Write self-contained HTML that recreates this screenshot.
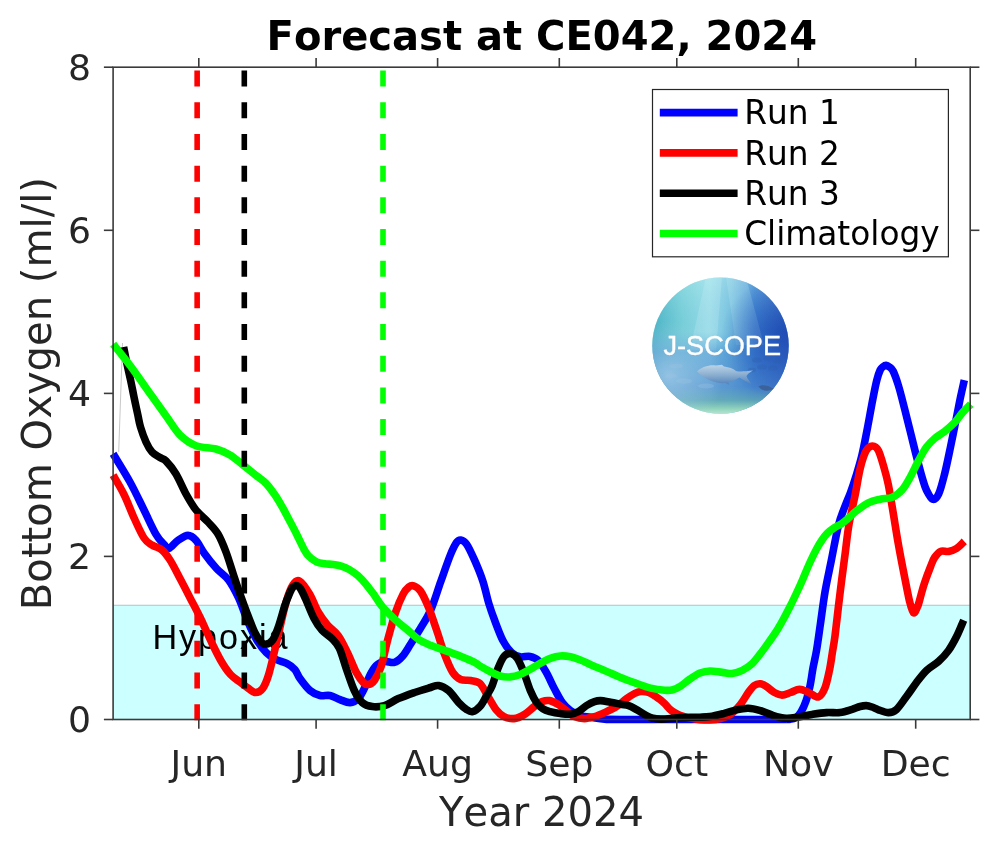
<!DOCTYPE html>
<html lang="en"><head><meta charset="utf-8"><title>Forecast at CE042, 2024</title>
<style>
html,body{margin:0;padding:0;background:#fff;}
body{width:1000px;height:847px;overflow:hidden;}
svg{display:block;}
text{font-family:"DejaVu Sans","Liberation Sans",sans-serif;fill:#262626;font-kerning:none;}
.tk{font-size:36.2px;}
.lg{font-size:32.8px;fill:#000;}
.ttl{font-size:40.05px;font-weight:bold;fill:#000;}
.axl{font-size:40.1px;}
.hyp{font-family:"Liberation Sans",sans-serif;font-size:34.2px;letter-spacing:1.9px;fill:#000;}
.logo{font-family:"Liberation Sans",sans-serif;font-size:28.2px;fill:#fff;stroke:#fff;stroke-width:0.4;}
.cv{fill:none;stroke-width:7.6;stroke-linejoin:round;stroke-linecap:butt;}
.ds{fill:none;stroke-width:5.6;stroke-dasharray:16 15.68;}
.ax{stroke:#3a3a3a;stroke-width:1.6;fill:none;}
</style></head><body>
<svg width="1000" height="847" viewBox="0 0 1000 847">
<rect width="1000" height="847" fill="#fff"/>
<rect x="113.1" y="605.3" width="857.1" height="114.2" fill="#ccffff"/>
<line x1="113.1" y1="605.3" x2="970.2" y2="605.3" stroke="#aec4c4" stroke-width="1.1"/>
<text class="hyp" x="152.5" y="648.9">Hypoxia</text>
<line x1="122.5" y1="343" x2="118.7" y2="452" stroke="#c8c8c8" stroke-width="1"/>
<path class="cv" stroke="#0000ff" d="M113.1 453.8C115.9 458.5 124.8 472.6 130.0 482.0C135.2 491.4 139.7 501.3 144.0 510.0C148.3 518.7 152.7 528.7 156.0 534.4C159.3 540.1 161.8 542.1 164.0 544.4C166.2 546.7 166.7 549.1 169.0 548.4C171.3 547.7 174.8 542.6 178.0 540.4C181.2 538.2 185.0 535.4 188.0 535.4C191.0 535.4 193.3 537.4 196.0 540.4C198.7 543.4 201.0 548.8 204.4 553.5C207.8 558.2 212.5 564.1 216.5 568.5C220.5 572.9 224.8 575.1 228.5 580.0C232.2 584.9 235.3 591.0 238.6 598.0C241.8 605.0 245.0 615.0 248.0 622.0C251.0 629.0 253.8 634.9 256.8 640.0C259.9 645.1 263.2 649.4 266.3 652.6C269.4 655.8 271.8 657.2 275.2 659.0C278.6 660.8 283.4 661.7 286.7 663.4C290.0 665.1 292.6 666.9 294.8 669.4C297.0 671.9 297.5 675.0 300.0 678.5C302.5 682.0 306.7 687.7 310.0 690.5C313.3 693.3 316.7 694.7 320.0 695.5C323.3 696.3 326.7 694.8 330.0 695.5C333.3 696.2 336.7 698.4 340.0 699.6C343.3 700.8 346.9 702.8 350.0 702.6C353.1 702.4 355.9 701.0 358.3 698.6C360.7 696.2 362.3 692.5 364.3 688.5C366.3 684.5 368.3 678.4 370.3 674.5C372.3 670.6 374.0 667.6 376.3 665.4C378.6 663.2 381.4 661.9 384.4 661.4C387.4 660.9 391.4 663.2 394.4 662.4C397.4 661.6 399.7 659.4 402.4 656.4C405.1 653.4 407.5 649.0 410.5 644.3C413.5 639.6 417.1 633.9 420.5 628.3C423.9 622.6 427.2 618.1 430.6 610.4C434.0 602.7 437.3 591.3 440.6 582.0C443.9 572.7 447.9 561.0 450.6 554.4C453.3 547.8 455.0 544.7 456.7 542.3C458.4 539.9 459.0 539.7 460.7 540.0C462.4 540.3 464.4 540.9 466.7 544.3C469.0 547.7 472.0 554.3 474.7 560.4C477.4 566.5 480.4 573.7 482.8 581.0C485.2 588.3 487.0 597.5 489.0 604.0C491.0 610.5 492.3 614.1 494.6 620.2C496.9 626.3 500.2 635.4 503.0 640.8C505.8 646.2 508.7 649.7 511.5 652.4C514.3 655.1 516.9 656.1 520.0 656.8C523.1 657.5 527.0 655.8 530.0 656.4C533.0 657.0 535.5 657.7 538.2 660.4C540.9 663.1 543.6 667.7 546.3 672.4C549.0 677.1 551.6 683.5 554.3 688.5C557.0 693.5 559.6 698.9 562.3 702.6C565.0 706.3 567.4 708.4 570.4 710.6C573.4 712.8 576.7 714.4 580.4 715.6C584.1 716.8 588.4 717.0 592.4 717.6C596.4 718.2 599.8 718.9 604.5 719.2C609.2 719.5 604.7 719.5 620.6 719.5C636.5 719.5 673.4 719.5 700.0 719.5C726.6 719.5 765.0 719.5 780.0 719.5C795.0 719.5 787.3 719.6 790.0 719.3C792.7 719.0 794.2 718.8 796.0 717.6C797.8 716.4 799.3 714.8 801.0 712.0C802.7 709.2 804.5 705.3 806.0 701.0C807.5 696.7 808.8 691.5 810.0 686.0C811.2 680.5 811.9 674.0 813.0 668.0C814.1 662.0 815.4 657.3 816.6 650.0C817.8 642.7 819.0 633.7 820.4 624.0C821.8 614.3 823.2 602.7 825.0 592.0C826.8 581.3 829.2 571.0 831.4 560.0C833.6 549.0 836.1 534.9 838.2 526.3C840.3 517.7 842.1 514.0 844.2 508.3C846.3 502.6 848.6 497.6 850.6 492.2C852.6 486.8 854.2 482.0 856.0 476.1C857.8 470.2 859.7 464.3 861.5 457.0C863.3 449.7 864.8 441.8 866.6 432.4C868.5 422.9 870.9 409.0 872.6 400.3C874.3 391.6 875.5 385.2 876.8 380.2C878.1 375.1 879.1 372.3 880.2 370.0C881.3 367.7 882.2 367.4 883.2 366.6C884.2 365.8 885.0 365.3 886.0 365.4C887.0 365.5 888.2 366.1 889.4 367.0C890.6 367.9 891.6 367.9 893.1 371.0C894.6 374.1 896.5 379.3 898.4 385.5C900.3 391.7 902.5 400.6 904.5 408.4C906.5 416.2 908.5 424.4 910.5 432.4C912.5 440.4 914.5 448.8 916.5 456.5C918.5 464.2 920.8 473.0 922.5 478.6C924.2 484.2 924.8 486.8 926.5 490.2C928.2 493.6 930.6 498.5 932.6 499.2C934.6 499.9 936.6 498.4 938.6 494.2C940.6 490.0 942.6 481.9 944.6 474.0C946.6 466.1 948.6 456.1 950.6 446.5C952.6 436.9 955.0 424.8 956.7 416.4C958.4 408.0 959.4 402.3 960.7 396.3C962.0 390.3 963.7 382.9 964.3 380.2"/>
<path class="cv" stroke="#ff0000" d="M113.1 475.2C114.9 478.4 120.5 487.4 124.0 494.5C127.5 501.6 130.7 510.5 134.0 517.8C137.3 525.0 141.0 533.5 144.0 538.0C147.0 542.5 149.0 543.0 152.0 545.0C155.0 547.0 159.0 547.5 162.0 550.0C165.0 552.5 166.9 555.2 170.0 560.0C173.1 564.8 176.9 572.6 180.3 579.0C183.7 585.4 187.1 592.0 190.4 598.5C193.8 605.0 197.1 611.1 200.4 618.0C203.7 624.9 207.1 633.0 210.4 640.0C213.8 647.0 217.2 654.2 220.5 660.0C223.8 665.8 227.2 670.8 230.5 674.5C233.8 678.2 237.6 680.2 240.6 682.5C243.6 684.8 246.1 686.8 248.6 688.5C251.1 690.2 253.2 692.5 255.6 692.5C257.9 692.5 260.5 691.5 262.7 688.5C264.9 685.5 266.7 680.9 268.7 674.5C270.7 668.1 272.7 658.8 274.7 650.4C276.7 642.0 278.7 632.4 280.7 624.0C282.7 615.6 284.7 606.5 286.7 600.0C288.7 593.5 290.7 588.2 292.8 585.0C294.9 581.8 296.7 579.5 299.5 581.0C302.3 582.5 306.5 588.8 309.6 594.0C312.7 599.2 315.2 606.8 318.2 612.0C321.2 617.2 324.1 621.1 327.5 625.0C330.9 628.9 335.0 631.0 338.3 635.6C341.6 640.2 344.4 646.3 347.4 652.4C350.4 658.5 353.6 667.4 356.3 672.4C359.0 677.4 361.3 680.5 363.3 682.5C365.3 684.5 366.5 684.8 368.3 684.5C370.1 684.2 372.2 683.5 374.3 680.5C376.4 677.5 379.0 673.1 381.2 666.4C383.4 659.7 385.2 649.3 387.6 640.3C390.0 631.3 393.0 619.9 395.6 612.2C398.2 604.5 401.0 598.2 403.2 594.0C405.4 589.8 407.1 588.4 408.8 587.0C410.5 585.6 411.6 585.0 413.5 585.7C415.4 586.4 418.0 587.4 420.5 591.0C423.0 594.6 425.9 601.0 428.6 607.5C431.3 614.0 433.9 622.2 436.6 630.0C439.3 637.8 441.9 647.3 444.6 654.4C447.3 661.5 450.0 668.2 452.7 672.4C455.4 676.6 457.7 678.1 460.7 679.5C463.7 680.9 467.5 679.8 470.7 680.5C473.9 681.2 477.1 680.8 480.0 683.5C482.9 686.2 485.3 692.1 488.0 696.5C490.7 700.9 493.3 706.2 496.0 709.6C498.7 713.0 501.0 715.1 504.0 716.6C507.0 718.1 510.6 718.9 514.0 718.6C517.4 718.3 520.8 716.6 524.2 714.6C527.6 712.6 531.2 708.8 534.2 706.6C537.2 704.4 539.7 702.6 542.2 701.6C544.7 700.6 546.6 700.1 549.3 700.6C552.0 701.1 555.5 702.9 558.3 704.6C561.1 706.3 563.6 708.6 566.3 710.6C569.0 712.6 571.4 715.3 574.4 716.6C577.4 717.9 581.0 718.6 584.4 718.6C587.8 718.6 591.1 717.6 594.5 716.6C597.9 715.6 600.8 714.3 604.5 712.6C608.2 710.9 612.8 708.9 616.5 706.6C620.2 704.3 623.6 700.8 626.6 698.6C629.6 696.4 632.3 694.7 634.6 693.5C636.9 692.3 638.2 691.7 640.6 691.5C643.0 691.3 646.0 691.5 648.7 692.5C651.4 693.5 654.7 696.0 656.7 697.2C658.7 698.4 659.2 698.8 660.5 699.9C661.8 701.0 663.1 702.0 664.7 703.6C666.3 705.2 668.3 707.8 670.0 709.3C671.7 710.8 673.3 711.8 675.0 712.8C676.7 713.8 677.8 714.4 680.0 715.2C682.2 716.0 684.7 716.9 688.0 717.6C691.3 718.3 696.3 719.2 700.0 719.6C703.7 720.0 706.6 720.2 710.0 720.0C713.4 719.8 716.8 719.5 720.2 718.6C723.6 717.7 726.9 716.9 730.2 714.6C733.6 712.3 737.3 708.3 740.3 704.6C743.3 700.9 746.0 695.7 748.3 692.5C750.6 689.3 752.3 687.0 754.3 685.5C756.3 684.0 758.4 683.6 760.4 683.8C762.4 684.0 764.1 685.0 766.4 686.5C768.7 688.0 771.8 691.1 774.4 692.5C777.0 693.9 779.3 695.1 782.0 695.1C784.7 695.1 787.6 693.5 790.5 692.5C793.4 691.5 796.5 689.3 799.5 689.3C802.5 689.3 805.5 691.2 808.6 692.5C811.7 693.8 815.6 697.7 818.3 697.0C821.0 696.3 822.9 692.8 824.8 688.3C826.7 683.8 828.2 675.9 829.5 670.0C830.8 664.1 831.4 658.7 832.3 653.0C833.2 647.3 834.0 643.8 835.0 636.0C836.0 628.2 837.4 615.2 838.5 606.0C839.6 596.8 840.5 589.5 841.6 580.6C842.7 571.7 844.1 561.8 845.3 552.4C846.5 543.0 847.3 534.0 849.0 524.3C850.7 514.6 853.4 503.6 855.3 494.2C857.2 484.8 858.5 475.2 860.3 468.0C862.1 460.8 864.0 454.7 866.0 451.0C868.0 447.3 870.2 446.1 872.3 446.0C874.4 445.9 876.4 446.7 878.4 450.5C880.4 454.3 882.7 463.2 884.4 469.0C886.1 474.8 887.1 478.5 888.4 485.0C889.7 491.5 890.7 498.1 892.4 508.0C894.1 517.9 896.4 533.0 898.4 544.4C900.4 555.8 902.6 567.0 904.5 576.5C906.4 586.0 908.1 595.5 909.6 601.5C911.1 607.5 912.2 612.0 913.5 612.8C914.8 613.6 916.4 609.5 917.6 606.5C918.9 603.5 919.9 598.9 921.0 595.0C922.1 591.1 922.9 587.8 924.5 583.0C926.1 578.2 928.9 570.8 930.6 566.5C932.3 562.2 932.9 560.0 934.6 557.5C936.3 555.0 938.3 552.4 940.6 551.4C942.9 550.4 945.9 551.9 948.6 551.4C951.3 550.9 954.1 550.1 956.7 548.4C959.3 546.7 963.0 542.6 964.3 541.4"/>
<path class="cv" stroke="#000000" d="M123.6 347.0C124.2 349.8 125.8 358.5 127.0 364.0C128.2 369.5 129.4 374.7 130.6 380.2C131.8 385.7 132.8 391.3 134.0 397.0C135.2 402.7 136.6 409.3 137.7 414.3C138.8 419.3 139.1 422.4 140.5 427.0C141.9 431.6 144.1 437.8 146.0 442.0C147.9 446.2 149.7 449.4 152.0 452.0C154.3 454.6 157.7 456.0 160.0 457.5C162.3 459.0 163.3 458.2 166.0 461.0C168.7 463.8 172.7 468.5 176.0 474.0C179.3 479.5 182.7 488.0 186.0 494.0C189.3 500.0 192.3 505.3 196.0 510.0C199.7 514.7 204.3 518.0 208.0 522.0C211.7 526.0 215.0 529.0 218.0 534.0C221.0 539.0 223.3 544.9 226.0 552.0C228.7 559.1 231.7 569.5 234.0 576.5C236.3 583.5 237.9 588.1 240.0 594.0C242.1 599.9 244.2 605.7 246.6 612.0C249.0 618.3 252.3 627.1 254.6 632.0C256.9 636.9 258.8 639.2 260.6 641.3C262.5 643.3 263.7 644.5 265.7 644.3C267.7 644.1 270.5 643.0 272.7 640.0C274.9 637.0 276.7 631.7 278.7 626.0C280.7 620.3 283.1 611.0 284.7 606.0C286.3 601.0 287.3 598.9 288.5 596.0C289.7 593.1 290.8 590.2 292.0 588.5C293.2 586.8 294.6 585.5 296.0 585.5C297.4 585.5 298.8 586.2 300.4 588.5C302.0 590.8 303.4 594.1 305.6 599.0C307.8 603.9 311.1 612.8 313.8 618.0C316.5 623.2 319.0 626.9 322.0 630.3C325.0 633.7 329.1 635.6 332.0 638.6C334.9 641.6 337.0 643.4 339.4 648.4C341.8 653.4 343.7 661.4 346.2 668.4C348.7 675.4 351.6 684.8 354.3 690.5C357.0 696.2 359.3 699.9 362.3 702.6C365.3 705.3 368.6 706.1 372.3 706.6C376.0 707.1 380.0 706.9 384.4 705.6C388.8 704.3 393.4 700.8 398.4 698.6C403.4 696.4 409.1 694.4 414.5 692.5C419.9 690.6 426.6 688.7 430.6 687.5C434.6 686.3 435.6 685.0 438.6 685.5C441.6 686.0 445.2 687.6 448.6 690.5C452.0 693.4 455.7 699.4 458.7 702.6C461.7 705.8 464.4 708.1 466.7 709.6C469.0 711.1 470.4 712.2 472.7 711.6C475.0 711.0 478.1 708.6 480.4 706.0C482.7 703.4 484.5 699.3 486.4 696.0C488.3 692.7 490.1 690.6 492.0 686.0C493.9 681.4 496.0 673.3 498.0 668.4C500.0 663.5 501.9 658.9 504.0 656.4C506.1 653.9 508.6 653.1 510.8 653.4C513.0 653.7 515.1 655.2 517.3 658.4C519.5 661.6 521.6 667.0 523.8 672.4C526.0 677.8 528.2 685.5 530.3 690.5C532.4 695.5 534.5 699.6 536.6 702.6C538.7 705.6 540.8 707.3 543.0 708.8C545.2 710.3 547.1 710.8 550.0 711.6C552.9 712.4 556.9 713.2 560.3 713.6C563.7 714.0 567.4 714.5 570.4 714.2C573.4 713.9 575.7 713.0 578.4 711.6C581.1 710.2 583.7 707.3 586.4 705.6C589.1 703.9 592.1 702.4 594.5 701.6C596.9 700.8 597.8 700.5 600.5 700.6C603.2 700.7 607.1 701.6 610.5 702.2C613.9 702.8 617.6 703.6 620.6 704.2C623.6 704.8 625.9 704.7 628.6 705.6C631.3 706.5 633.9 708.1 636.6 709.6C639.3 711.1 642.0 713.2 644.7 714.6C647.4 716.0 650.0 717.5 652.7 718.2C655.4 719.0 657.7 719.1 660.7 719.1C663.7 719.1 667.6 718.8 670.8 718.5C674.0 718.2 676.8 717.8 680.0 717.6C683.2 717.4 686.7 717.5 690.0 717.4C693.3 717.3 696.7 717.3 700.0 717.2C703.3 717.1 706.0 717.2 710.0 716.6C714.0 716.0 719.8 714.5 724.2 713.4C728.6 712.3 732.3 710.8 736.3 709.9C740.3 709.0 744.3 708.2 748.3 708.3C752.3 708.4 756.4 709.5 760.4 710.6C764.4 711.8 768.1 713.9 772.4 715.2C776.7 716.5 781.6 718.0 786.0 718.3C790.4 718.6 794.2 717.6 798.5 717.0C802.8 716.4 807.3 715.1 812.0 714.4C816.7 713.7 821.9 712.9 826.6 712.6C831.3 712.3 835.9 713.1 840.2 712.6C844.5 712.1 848.9 710.4 852.2 709.4C855.5 708.4 857.6 707.1 860.0 706.5C862.4 705.9 864.3 705.5 866.3 705.6C868.3 705.7 870.0 706.3 872.0 707.0C874.0 707.7 875.7 708.9 878.4 709.8C881.1 710.7 885.4 712.6 888.4 712.6C891.4 712.6 893.4 712.3 896.4 709.6C899.4 706.9 903.1 701.0 906.5 696.5C909.9 692.0 913.2 686.9 916.5 682.5C919.8 678.1 922.8 673.9 926.5 670.4C930.2 666.9 934.9 664.7 938.6 661.4C942.3 658.1 945.6 654.6 948.6 650.4C951.6 646.2 954.2 641.3 956.7 636.3C959.2 631.3 962.5 622.9 963.7 620.2"/>
<path class="cv" stroke="#00ff00" d="M113.2 344.2C116.0 347.8 123.9 357.3 130.1 365.6C136.3 373.9 144.2 385.4 150.2 393.8C156.2 402.2 161.3 409.3 166.3 416.2C171.3 423.1 175.1 430.1 180.0 435.0C184.9 439.9 190.0 443.4 196.0 445.7C202.0 448.0 210.3 447.4 216.0 449.0C221.7 450.6 225.2 452.1 230.0 455.0C234.8 457.9 240.2 462.8 244.6 466.3C249.0 469.8 253.0 473.0 256.5 475.8C260.0 478.6 262.5 479.8 265.6 483.0C268.7 486.2 272.0 490.7 275.0 495.0C278.0 499.3 280.9 504.6 283.4 509.0C285.9 513.4 287.7 517.2 290.0 521.5C292.3 525.8 294.8 530.5 297.0 535.0C299.2 539.5 301.6 544.9 303.5 548.3C305.4 551.7 306.1 553.3 308.3 555.6C310.5 557.9 313.8 560.5 316.5 561.9C319.2 563.3 322.0 563.4 324.8 563.8C327.6 564.2 330.4 564.1 333.1 564.5C335.9 564.9 338.6 565.3 341.3 566.2C344.1 567.1 346.8 568.2 349.6 569.8C352.4 571.4 355.1 573.3 357.9 575.7C360.6 578.1 363.4 581.1 366.1 584.4C368.9 587.6 371.7 591.5 374.4 595.2C377.1 598.9 379.0 602.8 382.4 606.8C385.8 610.8 390.9 615.7 395.0 619.5C399.1 623.3 403.1 626.2 407.0 629.5C410.9 632.8 414.6 636.7 418.5 639.3C422.4 641.9 426.2 643.4 430.6 645.3C435.0 647.1 439.6 648.5 444.6 650.4C449.6 652.2 455.7 654.4 460.7 656.4C465.7 658.4 471.5 660.8 474.7 662.4C477.9 664.0 477.4 664.5 480.0 666.0C482.6 667.5 486.7 669.8 490.0 671.5C493.3 673.2 496.7 675.1 500.0 676.0C503.3 676.9 506.7 677.1 510.0 676.9C513.3 676.6 516.7 675.8 520.0 674.5C523.3 673.2 526.6 671.2 530.0 669.4C533.4 667.5 536.8 665.2 540.2 663.4C543.6 661.6 546.9 659.6 550.3 658.4C553.6 657.2 556.9 656.3 560.3 656.0C563.6 655.7 567.0 656.1 570.4 656.8C573.8 657.5 576.7 658.6 580.4 660.0C584.1 661.4 588.4 663.7 592.4 665.4C596.4 667.1 599.8 668.4 604.5 670.4C609.2 672.4 615.2 675.3 620.6 677.5C626.0 679.7 631.6 681.7 636.6 683.5C641.6 685.3 646.0 687.0 650.7 688.1C655.4 689.2 661.2 689.9 664.7 690.2C668.2 690.5 669.5 690.6 672.0 690.0C674.5 689.4 677.0 688.3 680.0 686.5C683.0 684.7 686.7 681.2 690.0 679.0C693.3 676.8 696.7 674.3 700.0 673.0C703.3 671.7 706.3 671.1 710.0 671.0C713.7 670.9 718.5 672.0 722.2 672.4C725.9 672.8 728.9 673.8 732.2 673.5C735.6 673.2 738.9 672.1 742.3 670.4C745.6 668.7 748.9 666.7 752.3 663.5C755.6 660.3 759.4 654.8 762.4 651.0C765.4 647.2 767.4 644.2 770.0 640.5C772.6 636.8 775.5 632.8 777.8 629.0C780.1 625.2 781.9 621.9 784.0 618.0C786.1 614.1 788.2 610.0 790.4 605.7C792.6 601.4 794.9 596.5 797.0 592.0C799.1 587.5 801.0 583.3 803.1 578.4C805.2 573.5 807.6 567.5 809.9 562.5C812.2 557.5 814.8 552.2 816.8 548.5C818.8 544.8 820.3 542.5 822.0 540.0C823.7 537.5 825.1 535.5 827.1 533.5C829.1 531.5 831.6 529.6 834.0 528.0C836.4 526.4 839.1 525.4 841.4 523.8C843.7 522.2 845.5 520.6 848.0 518.5C850.5 516.4 852.9 513.6 856.3 511.0C859.7 508.4 864.3 504.8 868.3 502.8C872.3 500.8 876.4 500.1 880.4 499.2C884.4 498.3 888.7 498.8 892.4 497.2C896.1 495.6 899.5 492.9 902.5 489.5C905.5 486.1 907.8 481.4 910.5 476.6C913.2 471.8 915.8 465.5 918.5 460.6C921.2 455.7 923.8 450.7 926.5 447.0C929.2 443.3 931.6 441.1 934.6 438.5C937.6 435.9 941.2 434.1 944.6 431.4C948.0 428.7 951.7 425.6 954.7 422.4C957.7 419.2 960.0 415.4 962.7 412.4C965.4 409.4 969.4 405.6 970.7 404.3"/>
<line class="ds" stroke="#ff0000" x1="197.15" y1="720.2" x2="197.15" y2="67.2"/>
<line class="ds" stroke="#000000" x1="244.3" y1="720.2" x2="244.3" y2="67.2"/>
<line class="ds" stroke="#00ff00" x1="383" y1="720.2" x2="383" y2="67.2"/>
<rect class="ax" x="113.1" y="67.2" width="857.1" height="652.3"/>
<line class="ax" x1="198.8" y1="719.5" x2="198.8" y2="728.7"/><line class="ax" x1="198.8" y1="67.2" x2="198.8" y2="58.0"/>
<text class="tk" x="198.8" y="776" text-anchor="middle">Jun</text>
<line class="ax" x1="316.1" y1="719.5" x2="316.1" y2="728.7"/><line class="ax" x1="316.1" y1="67.2" x2="316.1" y2="58.0"/>
<text class="tk" x="316.1" y="776" text-anchor="middle">Jul</text>
<line class="ax" x1="437.6" y1="719.5" x2="437.6" y2="728.7"/><line class="ax" x1="437.6" y1="67.2" x2="437.6" y2="58.0"/>
<text class="tk" x="437.6" y="776" text-anchor="middle">Aug</text>
<line class="ax" x1="559.3" y1="719.5" x2="559.3" y2="728.7"/><line class="ax" x1="559.3" y1="67.2" x2="559.3" y2="58.0"/>
<text class="tk" x="559.3" y="776" text-anchor="middle">Sep</text>
<line class="ax" x1="676.8" y1="719.5" x2="676.8" y2="728.7"/><line class="ax" x1="676.8" y1="67.2" x2="676.8" y2="58.0"/>
<text class="tk" x="676.8" y="776" text-anchor="middle">Oct</text>
<line class="ax" x1="798.3" y1="719.5" x2="798.3" y2="728.7"/><line class="ax" x1="798.3" y1="67.2" x2="798.3" y2="58.0"/>
<text class="tk" x="798.3" y="776" text-anchor="middle">Nov</text>
<line class="ax" x1="915.7" y1="719.5" x2="915.7" y2="728.7"/><line class="ax" x1="915.7" y1="67.2" x2="915.7" y2="58.0"/>
<text class="tk" x="915.7" y="776" text-anchor="middle">Dec</text>
<line class="ax" x1="113.1" y1="719.5" x2="103.89999999999999" y2="719.5"/><line class="ax" x1="970.2" y1="719.5" x2="979.4000000000001" y2="719.5"/>
<text class="tk" x="91" y="732.4" text-anchor="end">0</text>
<line class="ax" x1="113.1" y1="556.4" x2="103.89999999999999" y2="556.4"/><line class="ax" x1="970.2" y1="556.4" x2="979.4000000000001" y2="556.4"/>
<text class="tk" x="91" y="569.3" text-anchor="end">2</text>
<line class="ax" x1="113.1" y1="393.4" x2="103.89999999999999" y2="393.4"/><line class="ax" x1="970.2" y1="393.4" x2="979.4000000000001" y2="393.4"/>
<text class="tk" x="91" y="406.2" text-anchor="end">4</text>
<line class="ax" x1="113.1" y1="230.3" x2="103.89999999999999" y2="230.3"/><line class="ax" x1="970.2" y1="230.3" x2="979.4000000000001" y2="230.3"/>
<text class="tk" x="91" y="243.2" text-anchor="end">6</text>
<line class="ax" x1="113.1" y1="67.2" x2="103.89999999999999" y2="67.2"/><line class="ax" x1="970.2" y1="67.2" x2="979.4000000000001" y2="67.2"/>
<text class="tk" x="91" y="80.1" text-anchor="end">8</text>
<text class="ttl" x="541.8" y="50" text-anchor="middle">Forecast at CE042, 2024</text>
<text class="axl" x="541.5" y="826.4" text-anchor="middle">Year 2024</text>
<text class="axl" transform="translate(50.6,393.6) rotate(-90)" text-anchor="middle">Bottom Oxygen (ml/l)</text>
<rect x="652.5" y="89.5" width="295.9" height="167.3" fill="#fff" stroke="#262626" stroke-width="1.2"/>
<line x1="659.8" y1="112.6" x2="737.6" y2="112.6" stroke="#0000ff" stroke-width="7.6"/><text class="lg" x="744.2" y="124.3">Run 1</text>
<line x1="659.8" y1="152.9" x2="737.6" y2="152.9" stroke="#ff0000" stroke-width="7.6"/><text class="lg" x="744.2" y="164.6">Run 2</text>
<line x1="659.8" y1="193.2" x2="737.6" y2="193.2" stroke="#000000" stroke-width="7.6"/><text class="lg" x="744.2" y="204.9">Run 3</text>
<line x1="659.8" y1="233.5" x2="737.6" y2="233.5" stroke="#00ff00" stroke-width="7.6"/><text class="lg" x="744.2" y="245.2">Climatology</text>
<defs>
<clipPath id="lc"><circle cx="720.5" cy="345.6" r="68.2"/></clipPath>
<linearGradient id="lg1" x1="0" y1="0" x2="1" y2="0">
<stop offset="0" stop-color="#45b2c0"/><stop offset="0.22" stop-color="#7ad2d8"/><stop offset="0.42" stop-color="#9fe0ea"/><stop offset="0.58" stop-color="#79c0e0"/><stop offset="0.75" stop-color="#3479cf"/><stop offset="1" stop-color="#1d49b4"/>
</linearGradient>
<linearGradient id="lg2" x1="0" y1="0" x2="0" y2="1">
<stop offset="0" stop-color="#b5ecf0" stop-opacity="0.35"/><stop offset="0.4" stop-color="#58b0d8" stop-opacity="0.15"/><stop offset="0.55" stop-color="#3f86cf" stop-opacity="0.55"/><stop offset="0.8" stop-color="#4a86cc" stop-opacity="0.75"/><stop offset="0.9" stop-color="#5fa6b6" stop-opacity="0.9"/><stop offset="0.96" stop-color="#8fd2bc" stop-opacity="1"/><stop offset="1" stop-color="#b8e6d2" stop-opacity="1"/>
</linearGradient>
<radialGradient id="lg3" cx="0.12" cy="0.72" r="0.4">
<stop offset="0" stop-color="#a8d0ea" stop-opacity="0.75"/><stop offset="1" stop-color="#a8d0ea" stop-opacity="0"/>
</radialGradient>
<radialGradient id="lg4" cx="0.95" cy="0.45" r="0.45">
<stop offset="0" stop-color="#1a3fae" stop-opacity="0.6"/><stop offset="1" stop-color="#1a3fae" stop-opacity="0"/>
</radialGradient>
<linearGradient id="fg" x1="0" y1="0" x2="0" y2="1">
<stop offset="0" stop-color="#c3d8e8"/><stop offset="0.5" stop-color="#8fb0d0"/><stop offset="1" stop-color="#4f7fb8"/>
</linearGradient>
</defs>
<g clip-path="url(#lc)">
<rect x="652" y="277" width="137" height="137" fill="url(#lg1)"/>
<polygon points="706,277 722,277 716,350 690,350" fill="#d4f6f8" opacity="0.28"/>
<polygon points="726,277 746,277 764,345 736,345" fill="#d4f6f8" opacity="0.22"/>
<rect x="652" y="277" width="137" height="137" fill="url(#lg2)"/>
<rect x="652" y="277" width="137" height="137" fill="url(#lg3)"/>
<rect x="652" y="277" width="137" height="137" fill="url(#lg4)"/>
<g fill="#2f5fae" opacity="0.35">
<ellipse cx="757" cy="360" rx="5" ry="2.6"/><ellipse cx="768" cy="358" rx="5" ry="2.6"/><ellipse cx="778" cy="361" rx="4.5" ry="2.4"/><ellipse cx="762" cy="367" rx="5" ry="2.6"/><ellipse cx="773" cy="368" rx="5" ry="2.6"/><ellipse cx="752" cy="370" rx="4" ry="2.2"/>
</g>
<g fill="#9cc2e2" opacity="0.35">
<ellipse cx="676" cy="366" rx="7" ry="2.5"/><ellipse cx="684" cy="381" rx="8" ry="2.8"/><ellipse cx="671" cy="376" rx="6" ry="2.2"/><ellipse cx="706" cy="386" rx="8" ry="2.6"/>
</g>
<path d="M697 371.5 C702 366.5 710 364.5 716 365.5 L722 364.8 L724 366.6 C729 367.3 733 368.6 736 371 C740 372.2 746 371.2 753 370.6 C749 373.2 746.5 375 746.5 376.5 C747.5 379 750 381.5 751.5 384.5 C747 382.5 743 379.5 739.5 377.5 C736 379.5 732 381.8 728.5 382.6 L729 384.8 L725.5 383 C716 384 704 379 697 371.5Z" fill="url(#fg)" opacity="0.92"/>
<path d="M758.5 386.5 C762 384.2 768 385 773.5 388.6 C769 392 762 391.5 758.5 386.5Z" fill="#3b5f96" opacity="0.9"/>
</g>
<text class="logo" x="663.5" y="355.4" textLength="117.5" lengthAdjust="spacingAndGlyphs">J-SCOPE</text>
</svg></body></html>
